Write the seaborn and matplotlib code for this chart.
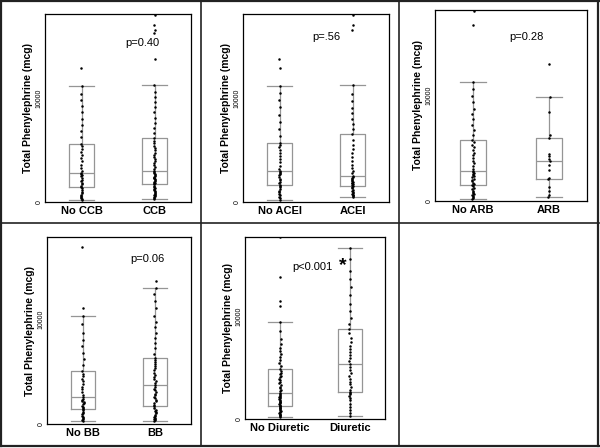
import numpy as np
import pandas as pd
import matplotlib
matplotlib.use("Agg")
import matplotlib.pyplot as plt
import seaborn as sns
from matplotlib.lines import Line2D

# values (mcg), one list per group
no_ccb = [230, 300, 400, 500, 600, 700, 850, 1000, 1150, 1300, 1440,
          1550, 1700, 1850, 2000, 2150, 2300, 2450, 2600, 2700, 2830,
          3000, 3300, 3600, 3900, 4200, 4500, 4800, 5100, 5400, 5610,
          6200, 6800, 7400, 8000, 8600, 9200, 9800, 10400, 11100, 12880]
ccb = [330, 400, 480, 560, 640, 720, 800, 880, 960, 1050, 1150, 1250, 1350, 1450, 1580, 1700,
       1780, 1860, 1940, 2020, 2100, 2180, 2260, 2340, 2420, 2500, 2600, 2700, 2800, 2900, 2980,
       3150, 3350, 3550, 3750, 3950, 4150, 4350, 4550, 4750, 4950, 5150, 5400, 5650, 5900, 6100,
       6600, 7100, 7600, 8100, 8600, 9100, 9600, 10100, 10600, 11190, 13690, 16190, 16500, 17000, 17950]
no_acei = [230, 350, 500, 650, 800, 950, 1100, 1250, 1400, 1550, 1670,
           1800, 1950, 2100, 2250, 2400, 2550, 2700, 2800, 2900, 2980,
           3200, 3500, 3800, 4100, 4400, 4700, 5000, 5300, 5500, 5710,
           6300, 7000, 7700, 8400, 9100, 9800, 10500, 11100, 12880, 13720]
acei = [480, 560, 640, 720, 800, 900, 1000, 1100, 1200, 1300, 1420, 1540,
        1620, 1700, 1780, 1860, 1940, 2020, 2100, 2200, 2300, 2420, 2530,
        2750, 3000, 3300, 3600, 3900, 4300, 4700, 5100, 5500, 6000, 6510,
        7000, 7500, 8000, 8500, 9000, 9700, 10400, 11190, 16500, 17000, 17950]
no_arb = [160, 250, 350, 450, 550, 650, 750, 850, 950, 1100, 1250, 1380, 1510,
          1620, 1740, 1860, 1980, 2100, 2220, 2340, 2460, 2580, 2680, 2760, 2830,
          3050, 3300, 3550, 3800, 4050, 4300, 4550, 4800, 5050, 5300, 5520, 5720,
          6200, 6700, 7200, 7700, 8200, 8700, 9300, 9900, 10600, 11230, 16600, 17950]
arb = [350, 570, 940, 1350, 2080, 2200, 2920, 3400, 3770, 3950, 4200, 4450,
       5970, 6230, 8420, 9780, 12920]
no_bb = [250, 350, 450, 560, 680, 800, 920, 1050, 1180, 1320, 1460,
         1560, 1660, 1760, 1860, 1960, 2060, 2170, 2290, 2420, 2570,
         2800, 3050, 3300, 3550, 3800, 4050, 4300, 4550, 4800, 5080,
         5600, 6200, 6800, 7400, 8000, 8700, 9500, 10290, 11050, 16890]
bb = [250, 340, 430, 520, 610, 700, 800, 900, 1000, 1120, 1240, 1360, 1520, 1690,
      1850, 2000, 2150, 2300, 2450, 2600, 2750, 2900, 3050, 3200, 3350, 3520, 3710,
      3900, 4100, 4300, 4500, 4700, 4900, 5100, 5300, 5500, 5700, 5900, 6080, 6250,
      6700, 7200, 7700, 8200, 8700, 9200, 9700, 10300, 11000, 11700, 12400, 12950, 13590]
no_diuretic = [225, 290, 360, 430, 500, 570, 640, 710, 790, 870, 950, 1030, 1110, 1180, 1240, 1290,
               1370, 1450, 1530, 1610, 1690, 1770, 1850, 1930, 2010, 2090, 2170, 2260, 2350, 2450, 2550,
               2700, 2850, 3000, 3150, 3300, 3450, 3600, 3750, 3900, 4050, 4200, 4350, 4500, 4650, 4810,
               5100, 5400, 5700, 6000, 6300, 6600, 6900, 7300, 7800, 8500, 9390, 10940, 11400, 13780, 17650]
diuretic = [320, 600, 900, 1200, 1500, 1800, 2050, 2250, 2400, 2520, 2640,
            2850, 3100, 3350, 3600, 3900, 4200, 4500, 4800, 5050, 5290,
            5600, 5900, 6200, 6500, 6800, 7100, 7500, 7900, 8300, 8710,
            9200, 9800, 10500, 11200, 12000, 12800, 13600, 14400, 15500, 16620]

panels = [
    ("No CCB", no_ccb, "CCB", ccb, "p=0.40"),
    ("No ACEI", no_acei, "ACEI", acei, "p=.56"),
    ("No ARB", no_arb, "ARB", arb, "p=0.28"),
    ("No BB", no_bb, "BB", bb, "p=0.06"),
    ("No Diuretic", no_diuretic, "Diuretic", diuretic, "p<0.001"),
]

plt.rcParams['font.family'] = ['Liberation Sans', 'DejaVu Sans']

W, H = 600, 448
fig = plt.figure(figsize=(6, 4.48), dpi=100)

# axes boxes in pixels: left, top, right, bottom
boxes = [(45, 14, 191, 202), (243, 14, 389, 202), (435, 10, 587, 201),
         (47, 237, 191, 424), (245, 237, 385, 419)]
ytops = [18050, 18050, 18000, 17800, 17650]
ptext = [(0.83, 15260), (0.64, 15840), (0.71, 15470), (0.90, 15710), (0.46, 14710)]

for (l, t, r, b), ytop, (px, py), (g0, v0, g1, v1, ptxt) in zip(boxes, ytops, ptext, panels):
    ax = fig.add_axes([l / W, 1 - b / H, (r - l) / W, (b - t) / H])
    df = pd.DataFrame({
        "group": [g0] * len(v0) + [g1] * len(v1),
        "value": v0 + v1,
    })
    sns.boxplot(data=df, x="group", y="value", order=[g0, g1], ax=ax,
                width=0.34, fill=False, color="#959595", linewidth=0.9,
                showfliers=False, whis=1.5, capwidths=0.34)
    sns.stripplot(data=df, x="group", y="value", order=[g0, g1], ax=ax,
                  color="black", size=1.8, jitter=0.012, linewidth=0)
    ax.set_xlim(-0.5, 1.5)
    ax.set_ylim(0, ytop)
    ax.set_yticks([0, 10000])
    ax.set_yticklabels(["0", "10000"], rotation=90, va="center", fontsize=5)
    ax.tick_params(axis="y", length=0, pad=1.5)
    ax.tick_params(axis="x", length=0, pad=3)
    for lab in ax.get_xticklabels():
        lab.set_fontweight("bold")
        lab.set_fontsize(8)
    ax.set_xlabel("")
    ax.set_ylabel("Total Phenylephrine (mcg)", fontsize=7.5, fontweight="bold", labelpad=2)
    for sp in ax.spines.values():
        sp.set_color("black")
        sp.set_linewidth(0.9)
    ax.text(px, py, ptxt, ha="center", va="center", fontsize=8)
    if ptxt == "p<0.001":
        ax.text(0.9, 14900, "*", ha="center", va="center", fontsize=14, fontweight="bold")

# panel frame lines (pixels)
def fline(x0, y0, x1, y1, lw=1.2):
    fig.add_artist(Line2D([x0 / W, x1 / W], [1 - y0 / H, 1 - y1 / H],
                          transform=fig.transFigure, color="#222222", linewidth=lw))

fline(1, 1, 599, 1, 1.6)
fline(1, 446, 599, 446, 1.6)
fline(1, 1, 1, 446, 1.6)
fline(598, 1, 598, 446, 1.6)
fline(201, 1, 201, 446)
fline(399, 1, 399, 446)
fline(1, 223, 599, 223)

fig.savefig("out.png", dpi=100)
